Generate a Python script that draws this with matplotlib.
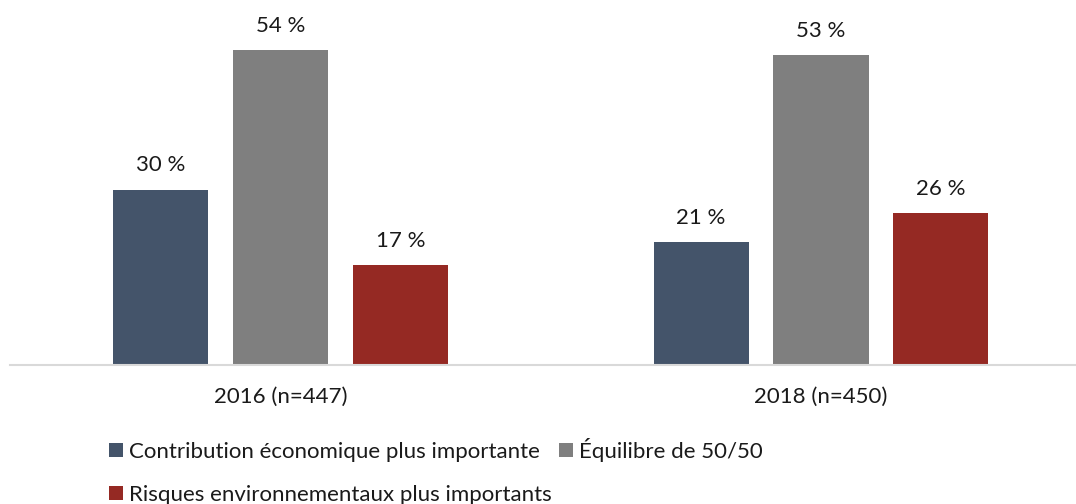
import numpy as np
import matplotlib.pyplot as plt
from matplotlib.patches import Patch

plt.rcParams['font.family'] = ['Lato', 'DejaVu Sans']

# données
groupes = ["2016 (n=447)", "2018 (n=450)"]
series = ["Contribution économique plus importante",
          "Équilibre de 50/50",
          "Risques environnementaux plus importants"]
contribution = [30, 21]
equilibre = [54, 53]
risques = [17, 26]
couleurs = ["#44546A", "#7F7F7F", "#952923"]

valeurs = [contribution, equilibre, risques]

fig = plt.figure(figsize=(10.76, 5.04), dpi=100)
ax = fig.add_axes([10 / 1076, 139.5 / 504, 1066 / 1076, 364.5 / 504])

x = np.arange(len(groupes))
largeur = 0.1758
pas = 0.222

for i, (vals, coul) in enumerate(zip(valeurs, couleurs)):
    pos = x + (i - 1) * pas
    barres = ax.bar(pos, vals, width=largeur, color=coul, edgecolor="none")
    for b, v in zip(barres, vals):
        ax.annotate(f"{v} %", (b.get_x() + b.get_width() / 2, v),
                    xytext=(0, 13), textcoords="offset points",
                    ha="center", va="baseline", fontsize=16, color="#1a1a1a")

ax.set_xlim(-0.5005, 1.4718)
ax.set_ylim(0, 62.5)
ax.set_xticks(x)
ax.set_xticklabels(groupes, fontsize=16, color="#1a1a1a")
ax.tick_params(axis="x", length=0, pad=16)
ax.set_yticks([])
for cote in ["top", "right", "left"]:
    ax.spines[cote].set_visible(False)
ax.spines["bottom"].set_color("#D9D9D9")
ax.spines["bottom"].set_linewidth(1.5)

# légende sur deux lignes
poignees = [Patch(facecolor=c, edgecolor="none") for c in couleurs]
opts = dict(frameon=False, fontsize=16, handlelength=0.63, handleheight=0.63,
            handletextpad=0.25, columnspacing=0.9, borderpad=0,
            borderaxespad=0, loc="center left")
leg1 = fig.legend(poignees[:2], series[:2], ncol=2,
                  bbox_to_anchor=(109 / 1076, 54 / 504), **opts)
leg2 = fig.legend(poignees[2:], series[2:],
                  bbox_to_anchor=(109 / 1076, 9 / 504), **opts)
for leg in (leg1, leg2):
    for t in leg.get_texts():
        t.set_color("#1a1a1a")

fig.savefig("out.png", dpi=100)
